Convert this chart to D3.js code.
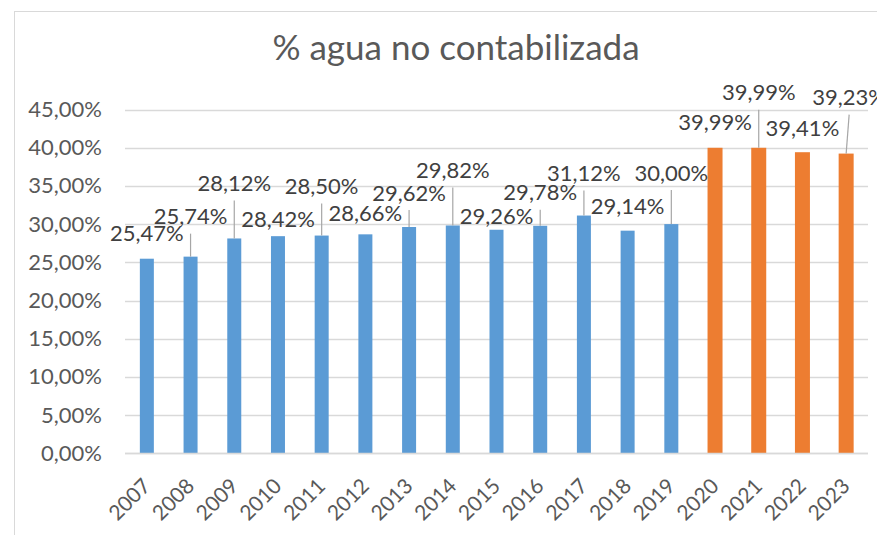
<!DOCTYPE html>
<html>
<head>
<meta charset="utf-8">
<script src="https://cdn.jsdelivr.net/npm/d3@7"></script>
<style>
  html, body { margin: 0; padding: 0; background: #fff; }
  svg { display: block; font-family: Lato, "Noto Sans", sans-serif; }
</style>
</head>
<body>
<svg id="chart" width="877" height="535"></svg>
<script>
// Non-revenue water share per year
const years = ["2007","2008","2009","2010","2011","2012","2013","2014","2015",
               "2016","2017","2018","2019","2020","2021","2022","2023"];
const values = [25.47, 25.74, 28.12, 28.42, 28.50, 28.66, 29.62, 29.82, 29.26,
                29.78, 31.12, 29.14, 30.00, 39.99, 39.99, 39.41, 39.23];
// first year of the second period (drawn in orange)
const splitYear = "2020";
const yTicks = [0, 5, 10, 15, 20, 25, 30, 35, 40, 45];

// label placement: lift of the label centre above the bar top (px), horizontal nudge, leader line
const labelLift = [25, 40, 55, 17, 49, 21, 34, 55, 13, 33, 42, 24, 51, 25, 55, 24, 56];
const labelNudge = [0, 0, 0, 0, 0, 0, 0, 0, 0, 0, 0, 0, 0, 0, 0, 0, 3];
const hasLeader = [false, true, true, false, true, false, true, true, false,
                   true, true, false, true, false, true, false, true];

const fmt = v => v.toFixed(2).replace(".", ",") + "%";

const svg = d3.select("#chart");
const W = 877, H = 535;
const plot = { left: 125, right: 868, top: 109.5, bottom: 453.3 };

svg.append("rect").attr("width", W).attr("height", H).attr("fill", "#fff");

// chart frame
svg.append("rect")
  .attr("x", 14.5).attr("y", 11.5)
  .attr("width", 900).attr("height", 600)
  .attr("fill", "none").attr("stroke", "#d9d9d9").attr("stroke-width", 1);

// title
svg.append("text")
  .attr("x", 456).attr("y", 60)
  .attr("text-anchor", "middle")
  .attr("fill", "#595959")
  .attr("font-size", 35)
  .text("% agua no contabilizada");

const x = d3.scaleBand().domain(years).range([plot.left, plot.right]).padding(0);
const y = d3.scaleLinear().domain([0, 45]).range([plot.bottom, plot.top]);

// gridlines
svg.append("g")
  .selectAll("line")
  .data(yTicks)
  .join("line")
  .attr("x1", plot.left).attr("x2", plot.right)
  .attr("y1", d => Math.round(y(d)) + 0.5).attr("y2", d => Math.round(y(d)) + 0.5)
  .attr("stroke", "#d9d9d9").attr("stroke-width", 1.3);

// y axis labels
const yAxis = d3.axisLeft(y).tickValues(yTicks).tickSize(0).tickPadding(0)
  .tickFormat(d => d.toFixed(2).replace(".", ",") + "%");
const gy = svg.append("g").attr("transform", `translate(102,0)`).call(yAxis);
gy.select(".domain").remove();
gy.selectAll("text").attr("fill", "#595959").attr("font-size", 22)
  .attr("font-family", "Lato, 'Noto Sans', sans-serif");

// x axis labels, rotated
const xAxis = d3.axisBottom(x).tickSize(0).tickPadding(0);
const gx = svg.append("g").attr("transform", `translate(0,${plot.bottom})`).call(xAxis);
gx.select(".domain").remove();
gx.selectAll("text")
  .attr("fill", "#595959").attr("font-size", 21)
  .attr("font-family", "Lato, 'Noto Sans', sans-serif")
  .attr("text-anchor", "end")
  .attr("dy", 0)
  .attr("y", 0)
  .attr("transform", "translate(5,34) rotate(-45)");

const isLate = d => d >= splitYear;
const barW = d => isLate(d) ? 15 : 14;
const cx = d => x(d) + x.bandwidth() / 2;

const data = years.map((yr, i) => ({ yr, v: values[i], i }));

// bars
svg.append("g")
  .selectAll("rect")
  .data(data)
  .join("rect")
  .attr("x", d => cx(d.yr) - barW(d.yr) / 2)
  .attr("y", d => y(d.v))
  .attr("width", d => barW(d.yr))
  .attr("height", d => y(0) - y(d.v))
  .attr("fill", d => isLate(d.yr) ? "#ED7D31" : "#5B9BD5");

// leader lines
svg.append("g")
  .selectAll("line")
  .data(data.filter(d => hasLeader[d.i]))
  .join("line")
  .attr("x1", d => cx(d.yr))
  .attr("y1", d => y(d.v))
  .attr("x2", d => cx(d.yr) + labelNudge[d.i])
  .attr("y2", d => y(d.v) - labelLift[d.i] + 17)
  .attr("stroke", "#a6a6a6").attr("stroke-width", 1.2);

// axis baseline
svg.append("line")
  .attr("x1", plot.left).attr("x2", plot.right)
  .attr("y1", Math.round(y(0)) + 0.5).attr("y2", Math.round(y(0)) + 0.5)
  .attr("stroke", "#d9d9d9").attr("stroke-width", 1.5);

// value labels
svg.append("g")
  .selectAll("text")
  .data(data)
  .join("text")
  .attr("x", d => cx(d.yr) + labelNudge[d.i])
  .attr("y", d => y(d.v) - labelLift[d.i])
  .attr("dy", "0.35em")
  .attr("text-anchor", "middle")
  .attr("fill", "#404040")
  .attr("font-size", 22)
  .text(d => fmt(d.v));
</script>
</body>
</html>
